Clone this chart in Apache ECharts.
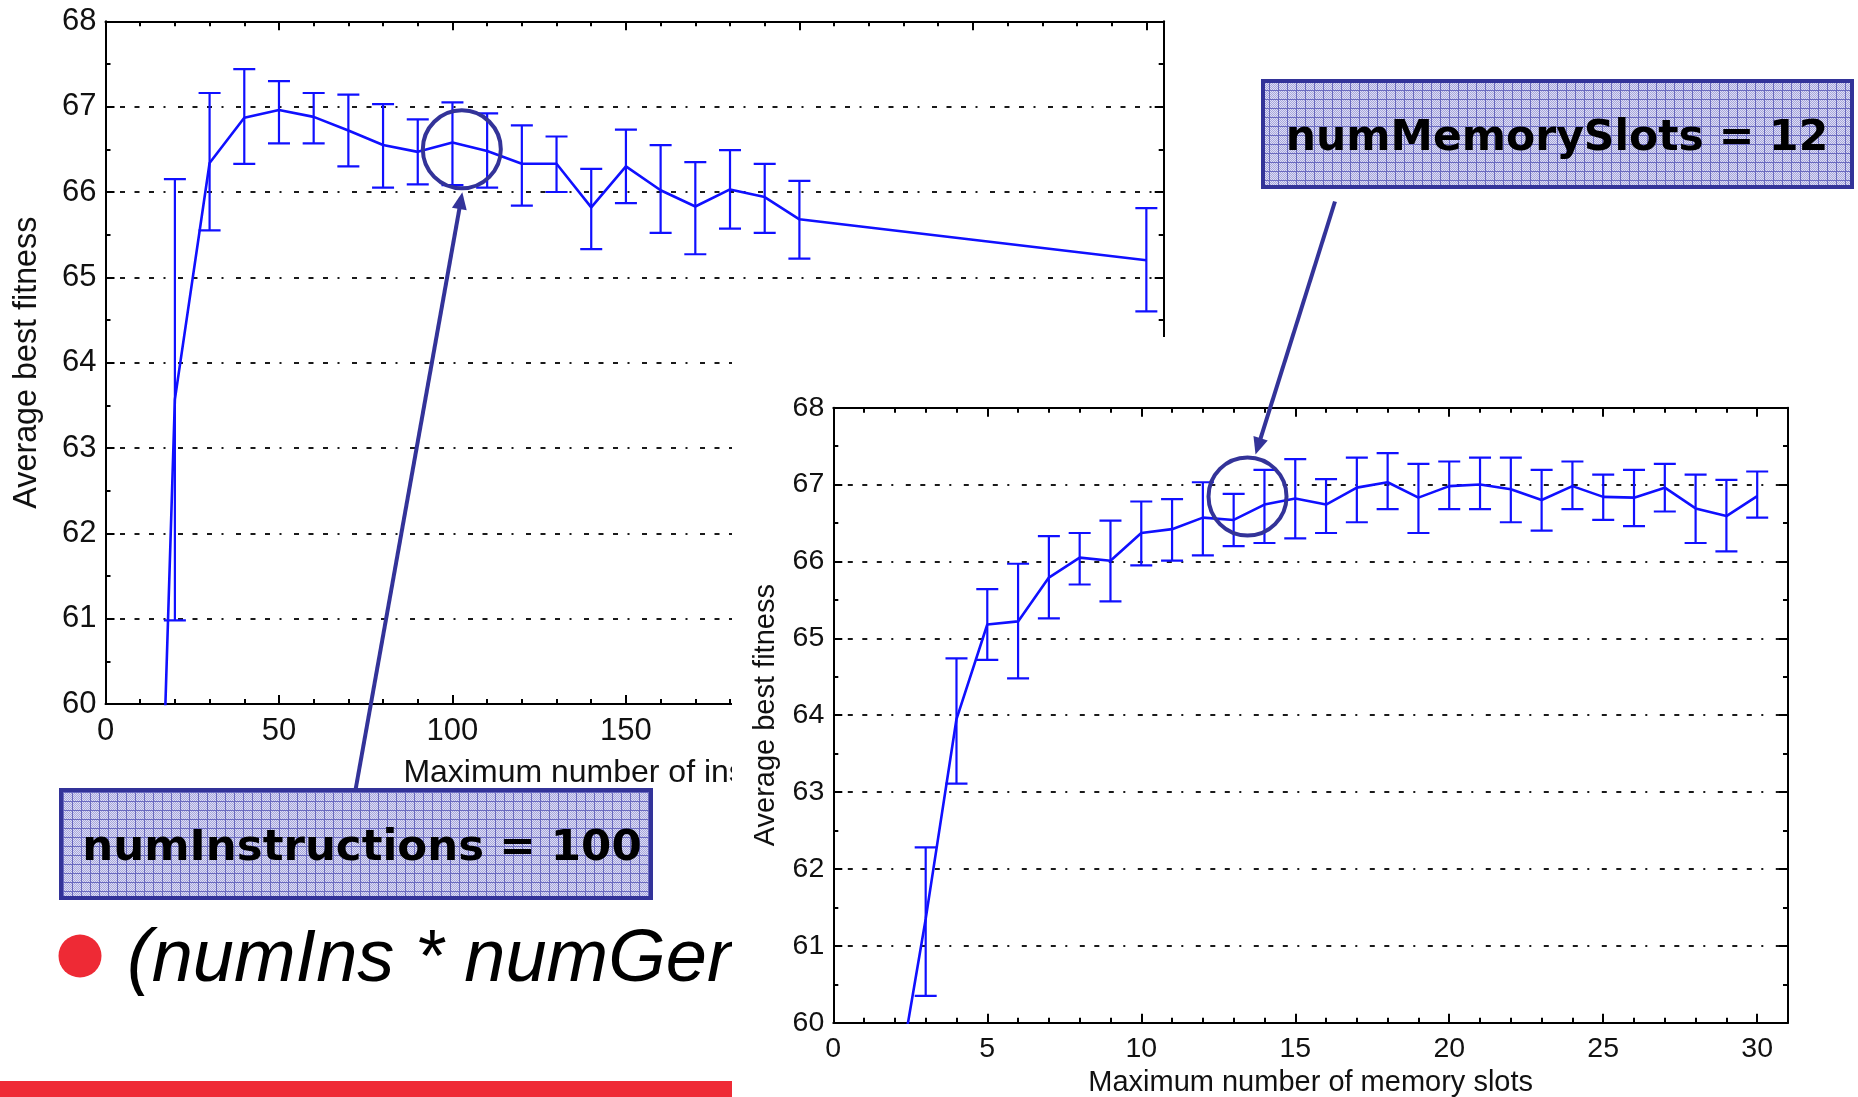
<!DOCTYPE html>
<html>
<head>
<meta charset="utf-8">
<script src="https://cdn.jsdelivr.net/npm/echarts@6.0.0/dist/echarts.min.js"></script>
<style>
  html, body { margin: 0; padding: 0; background: #ffffff; }
  #c { width: 1858px; height: 1097px; }
</style>
</head>
<body>
<div id="c"></div>
<script>
// ---- Fitness vs. maximum number of instructions ----
const instrX     = [10, 20, 30, 40, 50, 60, 70, 80, 90, 100, 110, 120, 130, 140, 150, 160, 170, 180, 190, 200, 300];
const instrMean  = [50.5, 63.57, 66.34, 66.87, 66.96, 66.88, 66.72, 66.55, 66.47, 66.58, 66.48, 66.33, 66.33, 65.82, 66.30, 66.02, 65.83, 66.03, 65.94, 65.68, 65.20];
const instrLow   = [null, 60.98, 65.55, 66.33, 66.57, 66.57, 66.30, 66.05, 66.09, 66.08, 66.05, 65.84, 66.00, 65.33, 65.87, 65.52, 65.27, 65.57, 65.52, 65.22, 64.60];
const instrHigh  = [null, 66.15, 67.16, 67.44, 67.30, 67.16, 67.14, 67.03, 66.85, 67.05, 66.92, 66.78, 66.65, 66.27, 66.73, 66.55, 66.35, 66.49, 66.33, 66.13, 65.81];

// ---- Fitness vs. maximum number of memory slots ----
const slotsX     = [2, 3, 4, 5, 6, 7, 8, 9, 10, 11, 12, 13, 14, 15, 16, 17, 18, 19, 20, 21, 22, 23, 24, 25, 26, 27, 28, 29, 30];
const slotsMean  = [59.0, 61.35, 63.95, 65.18, 65.22, 65.79, 66.05, 66.01, 66.37, 66.42, 66.57, 66.54, 66.74, 66.82, 66.74, 66.96, 67.03, 66.83, 66.98, 67.00, 66.94, 66.80, 66.98, 66.84, 66.83, 66.96, 66.69, 66.59, 66.85];
const slotsLow   = [null, 60.35, 63.11, 64.72, 64.48, 65.26, 65.70, 65.48, 65.95, 66.01, 66.08, 66.20, 66.24, 66.30, 66.37, 66.51, 66.68, 66.37, 66.68, 66.68, 66.51, 66.40, 66.68, 66.54, 66.46, 66.65, 66.24, 66.13, 66.57];
const slotsHigh  = [null, 62.28, 64.74, 65.64, 65.97, 66.33, 66.37, 66.53, 66.78, 66.81, 67.03, 66.88, 67.19, 67.33, 67.07, 67.35, 67.41, 67.27, 67.30, 67.35, 67.35, 67.19, 67.30, 67.13, 67.19, 67.27, 67.13, 67.06, 67.17];

// axis ranges and tick steps
const instrRange = [0, 305], instrStep = 50, instrMinorStep = 10;
const slotsRange = [0, 31],  slotsStep = 5,  slotsMinorStep = 1;
const fitRange   = [60, 68], fitStep = 1;

// callouts
const instrNote = 'numInstructions = 100';
const slotsNote = 'numMemorySlots = 12';
const instrRing = [102.7, 66.50];   // ring drawn around the chosen setting
const slotsRing = [13.45, 66.845];
const bulletText = '(numIns * numGen';

const BLUE = '#1010ff';
const NAVY = '#333399';
const FONT = '"Liberation Sans", Arial, sans-serif';
const CAP = 22;

const pairs = (xs, ys) => xs.map((x, i) => [x, ys[i]]);
const bars = (xs, lo, hi) => xs.map((x, i) => [x, lo[i], hi[i]]).filter(d => d[1] != null);

function errorBarItem(params, api) {
  const x = api.value(0);
  const lo = api.coord([x, api.value(1)]);
  const hi = api.coord([x, api.value(2)]);
  const hw = CAP / 2;
  const st = { stroke: BLUE, lineWidth: 2.2 };
  return {
    type: 'group',
    children: [
      { type: 'line', shape: { x1: lo[0], y1: lo[1], x2: hi[0], y2: hi[1] }, style: st },
      { type: 'line', shape: { x1: lo[0] - hw, y1: lo[1], x2: lo[0] + hw, y2: lo[1] }, style: st },
      { type: 'line', shape: { x1: hi[0] - hw, y1: hi[1], x2: hi[0] + hw, y2: hi[1] }, style: st }
    ]
  };
}

const frameLine = { show: true, onZero: false, lineStyle: { color: '#000', width: 2 } };
const tickStyle = { color: '#000', width: 2 };
const dotted = { show: true, lineStyle: { color: '#1a1a1a', width: 2, type: [2, 12.5, 5, 9.5, 5, 9.5, 5, 9.5] } };

function xMajor(grid, pos, range, step, z, label) {
  return {
    type: 'value', gridIndex: grid, position: pos, min: range[0], max: range[1], interval: step, z: z,
    axisLine: frameLine,
    axisTick: { show: true, inside: true, length: 9, lineStyle: tickStyle },
    axisLabel: label ? { show: true, showMaxLabel: false, fontSize: label.size, fontFamily: FONT, color: '#111', margin: label.margin } : { show: false },
    splitLine: { show: false },
    name: label ? label.name : '', nameLocation: 'middle', nameGap: label ? label.gap : 0,
    nameTextStyle: { fontSize: label ? label.nameSize : 12, fontFamily: FONT, color: '#111' }
  };
}
function xMinor(grid, pos, range, step, z) {
  return {
    type: 'value', gridIndex: grid, position: pos, min: range[0], max: range[1], interval: step, z: z,
    axisLine: { show: false },
    axisTick: { show: true, inside: true, length: 5, lineStyle: tickStyle },
    axisLabel: { show: false }, splitLine: { show: false }
  };
}
function yFrame(grid, pos, z, label) {
  return {
    type: 'value', gridIndex: grid, position: pos, min: fitRange[0], max: fitRange[1], interval: fitStep, z: z,
    axisLine: frameLine,
    axisTick: { show: true, inside: true, length: 9, lineStyle: tickStyle },
    minorTick: { show: true, splitNumber: 2, length: 5, lineStyle: tickStyle },
    axisLabel: label ? { show: true, fontSize: label.size, fontFamily: FONT, color: '#111', margin: label.margin } : { show: false },
    splitLine: label ? dotted : { show: false },
    name: label ? label.name : '', nameLocation: 'middle', nameGap: label ? label.gap : 0,
    nameTextStyle: { fontSize: label ? label.nameSize : 12, fontFamily: FONT, color: '#111' }
  };
}

const g1 = { left: 105.5, top: 21.3, width: 1058.2, height: 682.7, containLabel: false, outerBoundsMode: 'none' };
const g2 = { left: 833.3, top: 407.7, width: 954.7, height: 615, containLabel: false, outerBoundsMode: 'none' };

const chart = echarts.init(document.getElementById('c'), null, { renderer: 'canvas' });

chart.setOption({
  animation: false,
  backgroundColor: '#ffffff',
  grid: [Object.assign({}, g1), Object.assign({}, g1), Object.assign({}, g2), Object.assign({}, g2)],
  xAxis: [
    xMajor(0, 'bottom', instrRange, instrStep, 1, { size: 31, margin: 12, name: 'Maximum number of instructions', gap: 53, nameSize: 32 }),
    xMajor(0, 'top', instrRange, instrStep, 1, null),
    xMinor(1, 'bottom', instrRange, instrMinorStep, 1),
    xMinor(1, 'top', instrRange, instrMinorStep, 1),
    xMajor(2, 'bottom', slotsRange, slotsStep, 6, { size: 28.5, margin: 12, name: 'Maximum number of memory slots', gap: 46, nameSize: 29 }),
    xMajor(2, 'top', slotsRange, slotsStep, 6, null),
    xMinor(3, 'bottom', slotsRange, slotsMinorStep, 6),
    xMinor(3, 'top', slotsRange, slotsMinorStep, 6)
  ],
  yAxis: [
    yFrame(0, 'left', 1, { size: 31, margin: 9, name: 'Average best fitness', gap: 62, nameSize: 32.3 }),
    yFrame(0, 'right', 1, null),
    { type: 'value', gridIndex: 1, show: false, min: 0, max: 1 },
    yFrame(2, 'left', 6, { size: 28.5, margin: 9, name: 'Average best fitness', gap: 53, nameSize: 29 }),
    yFrame(2, 'right', 6, null),
    { type: 'value', gridIndex: 3, show: false, min: 0, max: 1 }
  ],
  series: [
    {
      type: 'line', xAxisIndex: 0, yAxisIndex: 0, z: 2, clip: true,
      data: pairs(instrX, instrMean), showSymbol: false, symbol: 'none',
      lineStyle: { color: BLUE, width: 2.6 }
    },
    {
      type: 'custom', xAxisIndex: 0, yAxisIndex: 0, z: 2, clip: true,
      data: bars(instrX, instrLow, instrHigh), encode: { x: 0, y: [1, 2] },
      renderItem: errorBarItem
    },
    {
      type: 'line', xAxisIndex: 4, yAxisIndex: 3, z: 7, clip: true,
      data: pairs(slotsX, slotsMean), showSymbol: false, symbol: 'none',
      lineStyle: { color: BLUE, width: 2.6 }
    },
    {
      type: 'custom', xAxisIndex: 4, yAxisIndex: 3, z: 7, clip: true,
      data: bars(slotsX, slotsLow, slotsHigh), encode: { x: 0, y: [1, 2] },
      renderItem: errorBarItem
    }
  ]
});

// hatched lavender fill for the callout boxes
const pat = document.createElement('canvas');
pat.width = 9; pat.height = 9;
(function () {
  const ctx = pat.getContext('2d');
  for (let y = 0; y < 9; y++) {
    for (let x = 0; x < 9; x++) {
      ctx.fillStyle = ((x + y) % 2) ? '#a6a6dc' : '#dedef4';
      ctx.fillRect(x, y, 1, 1);
    }
  }
  ctx.fillStyle = '#6a6abf';
  ctx.fillRect(0, 0, 9, 1);
  ctx.fillRect(0, 0, 1, 9);
})();
const hatch = { type: 'pattern', image: pat, repeat: 'repeat' };

function arrow(tail, tip, z) {
  const dx = tip[0] - tail[0], dy = tip[1] - tail[1];
  const len = Math.hypot(dx, dy);
  const ux = dx / len, uy = dy / len, nx = -uy, ny = ux;
  const L = 17, W = 15;
  const bx = tip[0] - ux * L, by = tip[1] - uy * L;
  return [
    { type: 'line', z: z, shape: { x1: tail[0], y1: tail[1], x2: bx + ux * 3, y2: by + uy * 3 }, style: { stroke: NAVY, lineWidth: 4 } },
    { type: 'polygon', z: z, shape: { points: [tip, [bx + nx * W / 2, by + ny * W / 2], [bx - nx * W / 2, by - ny * W / 2]] }, style: { fill: NAVY } }
  ];
}

const c1 = chart.convertToPixel({ xAxisIndex: 0, yAxisIndex: 0 }, instrRing);
const c2 = chart.convertToPixel({ xAxisIndex: 4, yAxisIndex: 3 }, slotsRing);
const RING = 39;

chart.setOption({
  graphic: [
    // slide elements sitting under the second figure
    { type: 'circle', z: 3, shape: { cx: 80, cy: 956, r: 21.5 }, style: { fill: '#ee2a35' } },
    { type: 'text', z: 3, x: 127, y: 960, style: { text: bulletText, font: 'italic 74px "Liberation Sans", Arial, sans-serif', fill: '#000', align: 'left', verticalAlign: 'middle' } },
    { type: 'rect', z: 3, shape: { x: 0, y: 1081, width: 1858, height: 16 }, style: { fill: '#ef2b36' } },
    // white backing of the second figure
    { type: 'rect', z: 5, shape: { x: 732, y: 337, width: 1126, height: 760 }, style: { fill: '#ffffff' } },
    // callouts
    { type: 'circle', z: 10, shape: { cx: c1[0], cy: c1[1], r: RING }, style: { fill: 'none', stroke: NAVY, lineWidth: 4 } },
    { type: 'circle', z: 10, shape: { cx: c2[0], cy: c2[1], r: RING }, style: { fill: 'none', stroke: NAVY, lineWidth: 4 } },
    ...arrow([355.5, 790], [c1[0] + 0.5, c1[1] + RING + 4], 10),
    ...arrow([1335, 201.5], [c2[0] + 8, c2[1] - RING - 3], 10),
    { type: 'rect', z: 10, shape: { x: 61, y: 790, width: 590, height: 108 }, style: { fill: hatch, stroke: NAVY, lineWidth: 4 } },
    { type: 'text', z: 11, x: 362, y: 849, style: { text: instrNote, font: 'bold 43.5px "DejaVu Sans", Verdana, sans-serif', fill: '#000', align: 'center', verticalAlign: 'middle' } },
    { type: 'rect', z: 10, shape: { x: 1263, y: 81, width: 589, height: 106 }, style: { fill: hatch, stroke: NAVY, lineWidth: 4 } },
    { type: 'text', z: 11, x: 1557, y: 139, style: { text: slotsNote, font: 'bold 42.5px "DejaVu Sans", Verdana, sans-serif', fill: '#000', align: 'center', verticalAlign: 'middle' } }
  ]
});
</script>
</body>
</html>
